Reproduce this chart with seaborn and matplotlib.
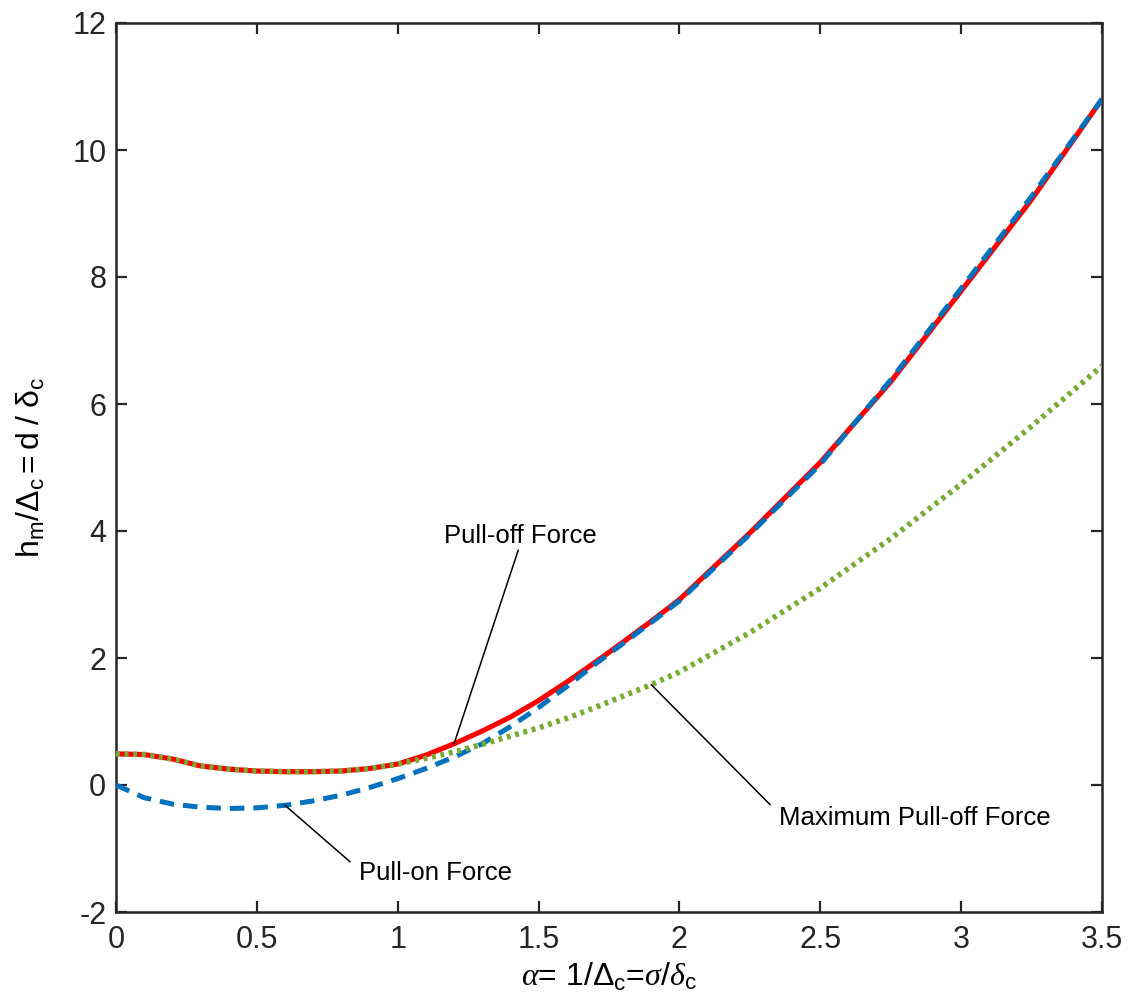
import numpy as np
import pandas as pd
import matplotlib
matplotlib.use("Agg")
import matplotlib.pyplot as plt
import seaborn as sns

# Normalised roughness parameter alpha
ALPHA = [0.0, 0.1, 0.2, 0.3, 0.4, 0.5, 0.6, 0.7, 0.8, 0.9,
         1.0, 1.1, 1.2, 1.3, 1.4, 1.5, 1.6, 1.7, 1.8, 1.9,
         2.0, 2.25, 2.5, 2.75, 3.0, 3.25, 3.5]

# Normalised separation h_m / Delta_c for each force criterion
PULL_OFF = [0.49, 0.48, 0.41, 0.30, 0.25, 0.22, 0.21, 0.21, 0.22, 0.26,
            0.33, 0.47, 0.65, 0.85, 1.07, 1.33, 1.62, 1.93, 2.25, 2.58,
            2.92, 3.97, 5.08, 6.35, 7.78, 9.22, 10.8]
PULL_ON = [0.0, -0.20, -0.30, -0.35, -0.37, -0.36, -0.32, -0.25, -0.16, -0.04,
           0.10, 0.26, 0.44, 0.65, 0.92, 1.22, 1.55, 1.90, 2.23, 2.56,
           2.90, 3.95, 5.05, 6.38, 7.82, 9.27, 10.8]
MAX_PULL_OFF = [0.49, 0.48, 0.41, 0.30, 0.25, 0.22, 0.21, 0.21, 0.22, 0.26,
                0.33, 0.42, 0.52, 0.64, 0.77, 0.90, 1.05, 1.22, 1.40, 1.58,
                1.78, 2.40, 3.10, 3.88, 4.74, 5.65, 6.60]

XTICKS = [0, 0.5, 1, 1.5, 2, 2.5, 3, 3.5]
XTICK_LABELS = ["0", "0.5", "1", "1.5", "2", "2.5", "3", "3.5"]
YTICKS = [-2, 0, 2, 4, 6, 8, 10, 12]
YTICK_LABELS = ["-2", "0", "2", "4", "6", "8", "10", "12"]

df = pd.DataFrame({"alpha": ALPHA, "pull_off": PULL_OFF,
                   "pull_on": PULL_ON, "max_pull_off": MAX_PULL_OFF})

sns.set_theme(style="ticks")
plt.rcParams["font.family"] = ["Liberation Sans", "DejaVu Sans"]
plt.rcParams["mathtext.fontset"] = "custom"
plt.rcParams["mathtext.rm"] = "Liberation Sans"
plt.rcParams["mathtext.it"] = "Liberation Serif:italic"
plt.rcParams["mathtext.bf"] = "Liberation Sans:bold"
plt.rcParams["axes.unicode_minus"] = False

AX_COLOR = "#262626"

fig = plt.figure(figsize=(11.36, 10.07), dpi=100)
ax = fig.add_axes([116 / 1136, 95 / 1007, 986 / 1136, 889 / 1007])

sns.lineplot(data=df, x="alpha", y="pull_off", ax=ax, color="#FF0000",
             linewidth=3.7, estimator=None, solid_capstyle="butt", zorder=3)
sns.lineplot(data=df, x="alpha", y="pull_on", ax=ax, color="#0072BD",
             linewidth=3.6, estimator=None, linestyle=(0, (2.9, 1.8)),
             dash_capstyle="butt", zorder=4)
sns.lineplot(data=df, x="alpha", y="max_pull_off", ax=ax, color="#77AC30",
             linewidth=4.0, estimator=None, linestyle=(0, (0.7, 0.85)),
             dash_capstyle="butt", zorder=5)

ax.set_xlim(0, 3.5)
ax.set_ylim(-2, 12)
ax.set_xticks(XTICKS)
ax.set_xticklabels(XTICK_LABELS)
ax.set_yticks(YTICKS)
ax.set_yticklabels(YTICK_LABELS)

ax.tick_params(direction="in", length=8, width=1.6, colors=AX_COLOR,
               labelsize=22, top=True, right=True, pad=7)
ax.tick_params(axis="x", pad=9)
for side in ax.spines.values():
    side.set_visible(True)
    side.set_linewidth(1.8)
    side.set_color(AX_COLOR)

ax.set_xlabel(r"$\alpha$= 1/$\mathregular{\Delta_c}$=$\sigma/\delta_{\mathregular{c}}$",
              fontsize=23, color="black")
ax.set_ylabel(r"$\mathregular{h_m/\Delta_c=d\ /\ \delta_c}$",
              fontsize=23, color="black")
ax.xaxis.set_label_coords(0.5, -0.055)
ax.yaxis.set_label_coords(-0.07, 0.5)

line_kw = dict(arrowstyle="-", color="black", lw=1.1, shrinkA=0, shrinkB=0)

# Pull-off force callout
ax.annotate("", xy=(ALPHA[12], PULL_OFF[12]), xytext=(1.428, 3.70),
            arrowprops=line_kw, zorder=6)
ax.text(1.435, 3.92, "Pull-off Force", fontsize=18.5, ha="center",
        va="center", color="black")

# Pull-on force callout
ax.annotate("", xy=(ALPHA[6], PULL_ON[6]), xytext=(0.831, -1.21),
            arrowprops=line_kw, zorder=6)
ax.text(1.133, -1.39, "Pull-on Force", fontsize=18.5, ha="center",
        va="center", color="black")

# Maximum pull-off force callout
ax.annotate("", xy=(ALPHA[19], MAX_PULL_OFF[19]), xytext=(2.322, -0.31),
            arrowprops=line_kw, zorder=6)
ax.text(2.837, -0.52, "Maximum Pull-off Force", fontsize=18.5, ha="center",
        va="center", color="black")

fig.savefig("out.png", dpi=100, facecolor="white")
